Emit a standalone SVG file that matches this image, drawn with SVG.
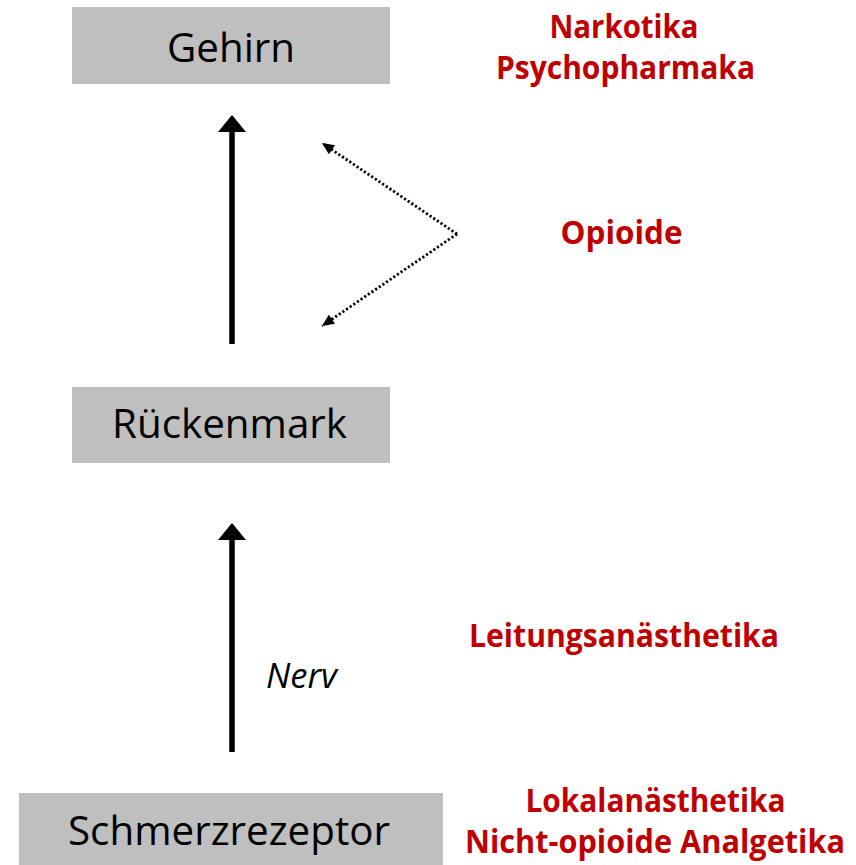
<svg xmlns="http://www.w3.org/2000/svg" width="856" height="865" viewBox="0 0 856 865">
<style>
.box{fill:#bfbfbf}
.lbl{font-family:"Open Sans","Liberation Sans",sans-serif;font-size:40px;fill:#000;text-anchor:middle}
.red{font-family:"Open Sans","Liberation Sans",sans-serif;font-size:33px;font-weight:bold;fill:#c00000;text-anchor:middle}
.nerv{font-family:"Open Sans","Liberation Sans",sans-serif;font-size:34px;font-style:italic;fill:#000}
.solid{stroke:#000;stroke-width:5.5;fill:none}
.dot{stroke:#000;stroke-width:2.8;stroke-dasharray:2.2 2.2;fill:none}
</style>
<defs>
<marker id="bighead" markerUnits="userSpaceOnUse" markerWidth="18" markerHeight="28" refX="0" refY="14" orient="auto" overflow="visible">
<path d="M0,0 L17,14 L0,28 z" fill="#000"/>
</marker>
<marker id="smallhead" markerUnits="userSpaceOnUse" markerWidth="12" markerHeight="11" refX="12" refY="5.5" orient="auto" overflow="visible">
<path d="M0,0 L12,5.5 L0,11 z" fill="#000"/>
</marker>
</defs>
<g id="gehirn">
<rect class="box" x="72" y="7" width="318" height="77"/>
<text class="lbl" x="231" y="62" textLength="128" lengthAdjust="spacingAndGlyphs">Gehirn</text>
</g>
<g id="rueckenmark">
<rect class="box" x="72" y="387" width="318" height="76"/>
<text class="lbl" x="229.5" y="438" textLength="235" lengthAdjust="spacingAndGlyphs">Rückenmark</text>
</g>
<g id="schmerzrezeptor">
<rect class="box" x="19" y="793" width="424" height="72"/>
<text class="lbl" x="229" y="845" textLength="322" lengthAdjust="spacingAndGlyphs">Schmerzrezeptor</text>
</g>
<g id="narkotika">
<text class="red" x="624" y="38" textLength="149" lengthAdjust="spacingAndGlyphs">Narkotika</text>
<text class="red" x="625.5" y="79" textLength="259" lengthAdjust="spacingAndGlyphs">Psychopharmaka</text>
</g>
<g id="opioide">
<text class="red" x="621.5" y="244" textLength="122" lengthAdjust="spacingAndGlyphs">Opioide</text>
</g>
<g id="leitungsanaesthetika">
<text class="red" x="624" y="647" textLength="310" lengthAdjust="spacingAndGlyphs">Leitungsanästhetika</text>
</g>
<g id="nerv">
<text class="nerv" x="266" y="688" textLength="71" lengthAdjust="spacingAndGlyphs">Nerv</text>
</g>
<g id="lokal">
<text class="red" x="655.5" y="812" textLength="260" lengthAdjust="spacingAndGlyphs">Lokalanästhetika</text>
<text class="red" x="655" y="853" textLength="380" lengthAdjust="spacingAndGlyphs">Nicht-opioide Analgetika</text>
</g>
<g id="connectors">
<line class="solid" x1="232" y1="344" x2="232" y2="132" marker-end="url(#bighead)"/>
<line class="solid" x1="232" y1="752" x2="232" y2="540" marker-end="url(#bighead)"/>
<line class="dot" x1="457" y1="234" x2="322" y2="143" marker-end="url(#smallhead)"/>
<line class="dot" x1="457" y1="234" x2="322" y2="326" marker-end="url(#smallhead)"/>
</g>
</svg>
